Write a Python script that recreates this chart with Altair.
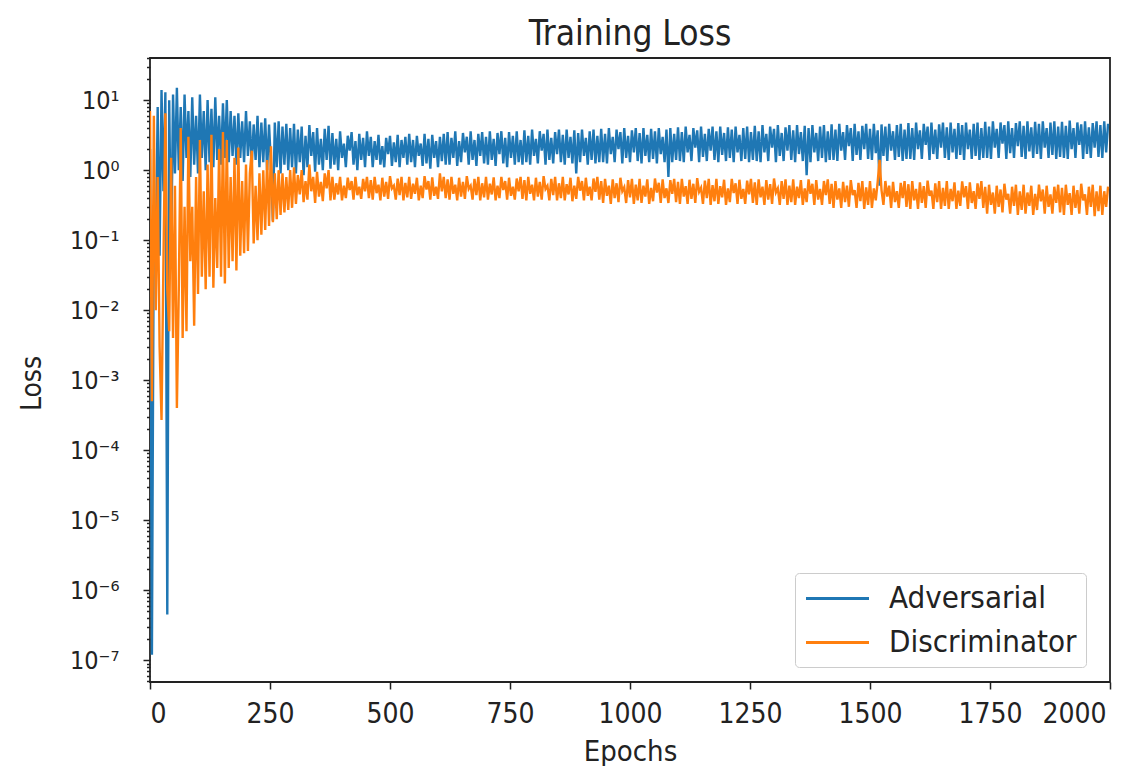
import altair as alt
import pandas as pd

# ---- data ----
epochs_early = list(range(0, 300, 4))
epochs_late = list(range(300, 2000, 4))

adv_early = [
    2.0, 1.2e-7, 0.3, 0.05, 8, 0.06, 14, 0.5, 13, 4.5e-7,
    10, 0.05, 12, 0.9, 15, 1.0, 8, 0.7, 12, 1.5,
    7, 0.8, 11, 1.2, 6, 0.9, 12, 1.5, 7, 1.0,
    10, 1.3, 7.5, 1.1, 11, 1.4, 6, 1.2, 9, 1.5,
    10, 1.3, 7, 1.6, 6, 1.2, 6.5, 1.5, 5, 1.3,
    7, 1.6, 5, 1.2, 4.5, 1.4, 6, 1.1, 4.8, 1.3,
    5.5, 1.0, 4.5, 1.2, 0.19, 4.8, 1.1, 5, 0.9, 4.2,
    1.2, 4.6, 1.0, 4.0, 1.1,
]
disc_early = [
    7, 5e-4, 6, 0.01, 0.8, 0.003, 2.7e-4, 0.05, 6.5, 0.02,
    0.005, 1.5, 0.004, 0.6, 4e-4, 0.02, 4.0, 0.004, 0.3, 0.005,
    3.0, 0.05, 0.3, 0.006, 0.8, 0.017, 2.7, 0.03, 0.5, 0.02,
    1.2, 0.03, 3.2, 0.021, 0.4, 0.04, 2.0, 0.03, 3.5, 0.024,
    2.7, 0.04, 0.8, 0.05, 1.5, 0.037, 2.1, 0.06, 0.7, 0.065,
    1.2, 0.07, 0.9, 1.9, 0.09, 0.6, 0.1, 0.9, 0.12, 1.0,
    0.14, 1.4, 0.16, 2.2, 0.18, 0.9, 0.2, 1.0, 0.23, 0.9,
    0.25, 0.8, 0.27, 1.0, 0.29,
]
adv_late = [
    4.6, 0.9, 3.8, 1.3, 4.2, 0.85, 3.1, 1.1, 4.4, 1.6, 3.5, 0.95, 4.0, 1.2, 2.8, 1.0, 3.9, 1.4, 4.3, 1.05,
    3.4, 1.2, 2.8, 1.0, 3.6, 1.5, 2.4, 1.1, 3.1, 1.9, 3.5, 1.2, 2.6, 1.0, 3.3, 1.4, 2.9, 1.1, 3.6, 1.6,
    3.0, 1.1, 2.6, 1.4, 3.2, 1.2, 2.2, 1.1, 2.9, 1.7, 3.1, 1.15, 2.5, 1.3, 3.2, 1.1, 2.7, 1.5, 3.0, 1.2,
    3.3, 1.3, 2.7, 1.1, 3.1, 1.6, 2.4, 1.15, 3.3, 1.25, 2.8, 1.05, 3.2, 1.5, 2.6, 1.1, 3.0, 1.35, 3.3, 1.2,
    3.5, 1.2, 2.9, 1.5, 3.6, 1.15, 2.6, 1.3, 3.4, 1.8, 3.0, 1.2, 3.6, 1.4, 2.7, 1.15, 3.3, 1.6, 3.5, 1.25,
    3.0, 1.2, 3.6, 1.4, 2.8, 1.15, 3.4, 1.7, 3.6, 1.25, 2.9, 1.1, 3.5, 1.5, 3.1, 1.2, 3.6, 1.3, 2.7, 1.2,
    3.7, 1.3, 3.1, 1.2, 3.8, 1.6, 2.8, 1.25, 3.6, 1.9, 3.3, 1.2, 3.8, 1.4, 2.9, 1.25, 3.5, 1.7, 3.8, 1.3,
    3.2, 1.2, 3.8, 1.5, 3.0, 1.25, 3.7, 0.9, 3.4, 1.3, 3.8, 1.6, 2.9, 1.2, 3.6, 1.4, 3.8, 1.25, 3.1, 1.3,
    3.9, 1.3, 3.3, 1.25, 4.0, 1.7, 3.0, 1.3, 3.8, 2.0, 3.5, 1.25, 4.0, 1.5, 3.1, 1.3, 3.7, 1.8, 4.0, 1.35,
    3.4, 1.25, 4.0, 1.6, 3.2, 1.3, 3.9, 1.45, 3.6, 1.25, 4.0, 1.7, 3.0, 1.3, 3.8, 0.8, 4.0, 1.3, 3.3, 1.4,
    4.1, 1.35, 3.5, 1.3, 4.2, 1.8, 3.2, 1.35, 4.0, 2.1, 3.7, 1.3, 4.2, 1.55, 3.3, 1.35, 3.9, 1.9, 4.2, 1.4,
    3.6, 1.3, 4.2, 1.65, 3.4, 1.35, 4.1, 1.5, 3.8, 1.3, 4.2, 1.8, 3.2, 1.35, 4.0, 1.45, 4.2, 1.3, 3.5, 1.4,
    4.3, 1.35, 3.6, 1.3, 4.4, 1.8, 3.3, 1.35, 4.2, 2.1, 3.9, 1.3, 4.4, 1.6, 3.4, 1.35, 4.1, 1.9, 4.4, 1.4,
    3.7, 1.3, 4.4, 1.7, 3.5, 1.35, 4.3, 0.85, 4.0, 1.3, 4.4, 1.8, 3.4, 1.35, 4.2, 1.5, 4.4, 1.3, 3.6, 1.4,
    4.5, 1.4, 3.8, 1.35, 4.6, 1.9, 3.5, 1.4, 4.4, 2.2, 4.0, 1.35, 4.6, 1.65, 3.6, 1.4, 4.3, 2.0, 4.6, 1.45,
    3.9, 1.4, 4.6, 1.75, 3.7, 0.6, 4.5, 1.6, 4.2, 1.35, 4.6, 1.9, 3.6, 1.4, 4.4, 1.55, 4.6, 1.35, 3.8, 1.45,
    4.7, 1.45, 4.0, 1.4, 4.8, 2.0, 3.7, 1.45, 4.6, 2.3, 4.2, 1.4, 4.8, 1.7, 3.8, 1.45, 4.5, 2.1, 4.8, 1.5,
    4.1, 1.4, 4.8, 1.8, 3.9, 1.45, 4.7, 1.65, 4.4, 1.4, 4.8, 2.0, 3.8, 1.45, 4.6, 1.6, 4.8, 1.4, 4.0, 1.5,
    4.9, 1.5, 4.2, 1.45, 5.0, 2.1, 3.9, 1.5, 4.8, 2.4, 4.4, 1.45, 5.0, 1.75, 4.0, 1.5, 4.7, 2.2, 5.0, 1.55,
    4.3, 1.45, 5.0, 1.85, 4.1, 1.5, 4.9, 1.7, 4.6, 1.45, 5.0, 2.1, 4.0, 1.5, 4.8, 1.65, 5.0, 1.45, 4.2, 1.55,
    4.9, 1.5, 4.3, 1.45, 5.1, 2.0, 4.0, 1.5, 4.8, 2.3, 4.5, 1.45, 5.0, 1.7, 4.1, 1.5, 4.7, 2.1, 5.0, 1.55,
    4.4, 1.5, 5.0, 1.8, 4.6,
]
disc_late = [
    1.1, 0.33, 0.85, 0.45, 1.0, 0.35, 0.7, 0.38, 1.2, 0.5, 0.8, 0.34, 0.95, 0.42, 0.68, 0.36, 0.9, 0.55, 1.0, 0.37,
    0.8, 0.38, 0.65, 0.45, 0.8, 0.37, 0.6, 0.4, 0.78, 0.52, 0.7, 0.38, 0.8, 0.44, 0.58, 0.39, 0.75, 0.5, 0.8, 0.4,
    0.72, 0.38, 0.8, 0.47, 0.62, 0.37, 0.78, 0.42, 0.68, 0.39, 0.82, 0.55, 0.6, 0.38, 0.76, 0.44, 0.8, 0.37, 0.66, 0.41,
    0.8, 0.39, 0.64, 0.46, 0.78, 0.37, 0.6, 0.4, 0.82, 0.53, 0.7, 0.38, 0.79, 0.43, 0.58, 0.39, 0.9, 0.5, 0.8, 0.4,
    0.74, 0.38, 0.8, 0.46, 0.62, 0.37, 0.78, 0.42, 0.68, 0.39, 0.82, 0.54, 0.6, 0.38, 0.75, 0.44, 0.8, 0.37, 0.65, 0.41,
    0.8, 0.38, 0.64, 0.45, 0.79, 0.37, 0.6, 0.4, 0.8, 0.52, 0.7, 0.38, 0.78, 0.43, 0.58, 0.38, 0.76, 0.5, 0.8, 0.39,
    0.72, 0.37, 0.8, 0.46, 0.62, 0.37, 0.78, 0.42, 0.68, 0.38, 0.82, 0.54, 0.6, 0.37, 0.75, 0.44, 0.8, 0.37, 0.65, 0.4,
    0.8, 0.37, 0.63, 0.45, 0.78, 0.36, 0.6, 0.39, 0.8, 0.51, 0.7, 0.37, 0.78, 0.43, 0.58, 0.37, 0.76, 0.49, 0.8, 0.38,
    0.7, 0.34, 0.75, 0.43, 0.6, 0.33, 0.74, 0.4, 0.65, 0.35, 0.78, 0.5, 0.57, 0.34, 0.72, 0.41, 0.75, 0.33, 0.62, 0.37,
    0.75, 0.34, 0.6, 0.42, 0.74, 0.33, 0.56, 0.36, 0.76, 0.48, 0.66, 0.34, 0.74, 0.4, 0.55, 0.34, 0.72, 0.46, 0.75, 0.35,
    0.68, 0.33, 0.75, 0.42, 0.59, 0.33, 0.73, 0.39, 0.64, 0.34, 0.77, 0.49, 0.56, 0.33, 0.71, 0.4, 0.75, 0.32, 0.61, 0.36,
    0.75, 0.33, 0.59, 0.41, 0.73, 0.32, 0.55, 0.35, 0.75, 0.47, 0.65, 0.33, 0.73, 0.39, 0.54, 0.33, 0.71, 0.45, 0.75, 0.34,
    0.67, 0.32, 0.74, 0.41, 0.58, 0.32, 0.72, 0.38, 0.63, 0.33, 0.76, 0.48, 0.55, 0.32, 0.7, 0.39, 0.74, 0.32, 0.6, 0.35,
    0.74, 0.32, 0.58, 0.4, 0.72, 0.32, 0.55, 0.35, 0.74, 0.46, 0.64, 0.32, 0.72, 0.38, 0.54, 0.32, 0.7, 0.44, 0.74, 0.33,
    0.64, 0.29, 0.7, 0.38, 0.55, 0.29, 0.68, 0.35, 0.6, 0.3, 0.72, 0.44, 0.52, 0.29, 0.66, 0.36, 0.7, 0.28, 0.57, 0.32,
    0.7, 0.29, 0.55, 0.37, 0.68, 1.4, 0.52, 0.32, 0.7, 0.42, 0.6, 0.29, 0.68, 0.35, 0.5, 0.29, 0.66, 0.4, 0.7, 0.3,
    0.63, 0.28, 0.7, 0.37, 0.54, 0.28, 0.67, 0.34, 0.59, 0.29, 0.71, 0.43, 0.51, 0.28, 0.65, 0.35, 0.7, 0.28, 0.56, 0.31,
    0.7, 0.28, 0.54, 0.36, 0.67, 0.28, 0.51, 0.31, 0.69, 0.41, 0.59, 0.28, 0.67, 0.34, 0.5, 0.28, 0.65, 0.39, 0.7, 0.29,
    0.58, 0.24, 0.62, 0.32, 0.48, 0.24, 0.6, 0.3, 0.53, 0.25, 0.64, 0.38, 0.46, 0.24, 0.58, 0.31, 0.62, 0.23, 0.5, 0.27,
    0.62, 0.24, 0.48, 0.31, 0.6, 0.23, 0.46, 0.27, 0.62, 0.36, 0.53, 0.24, 0.6, 0.3, 0.45, 0.24, 0.58, 0.34, 0.62, 0.25,
    0.56, 0.23, 0.62, 0.32, 0.47, 0.23, 0.6, 0.29, 0.52, 0.24, 0.64, 0.37, 0.45, 0.23, 0.58, 0.3, 0.62, 0.22, 0.5, 0.26,
    0.6, 0.23, 0.5, 0.3, 0.58,
]

series_names = ["Adversarial", "Discriminator"]
series_colors = ["#1f77b4", "#ff7f0e"]
x_ticks = [0, 250, 500, 750, 1000, 1250, 1500, 1750, 2000]
y_sup_labels = ["⁻⁷", "⁻⁶", "⁻⁵", "⁻⁴", "⁻³", "⁻²", "⁻¹", "⁰", "¹"]

# ---- table ----
epochs = epochs_early + epochs_late
rows = []
for e, v in zip(epochs, adv_early + adv_late):
    rows.append({"epoch": e, "loss": v, "series": "Adversarial"})
for e, v in zip(epochs, disc_early + disc_late):
    rows.append({"epoch": e, "loss": v, "series": "Discriminator"})
df = pd.DataFrame(rows)

# log-axis tick positions (majors labelled, minors unlabelled)
y_tick_values = []
for k in range(-8, 2):
    for m in range(1, 10):
        v = float(f"{m}e{k}")
        if 4.9e-8 <= v <= 40:
            y_tick_values.append(v)

FONT = "DejaVu Sans Condensed, DejaVu Sans"
is_major = "abs(log(datum.value)/LN10 - round(log(datum.value)/LN10)) < 0.01"
sup_array = "[" + ",".join(f"'{s}'" for s in y_sup_labels) + "]"
label_expr = f"{is_major} ? '10' + {sup_array}[round(log(datum.value)/LN10)+7] : ''"

x_enc = alt.X(
    "epoch:Q",
    scale=alt.Scale(domain=[0, 2000], nice=False, zero=False),
    axis=alt.Axis(
        title="Epochs", values=x_ticks, format="d", tickSize=7,
        labelFontSize=28, labelPadding=11,
        labelOffset={"condition": {"test": "datum.value == 2000", "value": -4}, "value": 0},
        titleY=78, titleBaseline="alphabetic", titleFontSize=29,
    ),
)
y_enc = alt.Y(
    "loss:Q",
    scale=alt.Scale(type="log", domain=[4.9e-8, 40], nice=False),
    axis=alt.Axis(
        title="Loss", values=y_tick_values, labelExpr=label_expr,
        labelOverlap=False, labelFontSize=25,
        tickSize={"condition": {"test": is_major, "value": 7}, "value": 3.5},
        labelPadding=24, titleX=-118, titleY=325, titleAlign="center",
        titleBaseline="middle", titleAngle=270, titleFontSize=28,
    ),
)
color_enc = alt.Color(
    "series:N",
    scale=alt.Scale(domain=series_names, range=series_colors),
    legend=alt.Legend(
        title=None, orient="none", legendX=645, legendY=515,
        symbolType="M-2.1,0H2.1", symbolSize=900, symbolStrokeWidth=3,
        symbolOffset=17, labelOffset=35, rowPadding=12, padding=9,
        labelFont=FONT, labelFontSize=31, labelColor="#222", labelLimit=400,
        fillColor="white", strokeColor="#cccccc", cornerRadius=4,
    ),
)

base = alt.Chart(df).mark_line(strokeWidth=2.4, clip=True).encode(
    x=x_enc, y=y_enc, color=color_enc
)
adv_layer = base.transform_filter(alt.datum.series == "Adversarial")
disc_layer = base.transform_filter(alt.datum.series == "Discriminator")

chart = (
    alt.layer(adv_layer, disc_layer)
    .properties(
        width=960, height=624,
        title=alt.TitleParams("Training Loss", font=FONT, fontSize=35,
                              fontWeight="normal", color="#222", offset=-6),
        autosize=alt.AutoSizeParams(type="none"),
        padding={"left": 142, "top": 50, "right": 29, "bottom": 84},
    )
    .configure_view(stroke="#222", strokeWidth=1.8)
    .configure_axis(
        domain=False, grid=False, labelFont=FONT,
        labelColor="#222", titleFont=FONT,
        titleFontWeight="normal", titleColor="#222",
        tickColor="#222", tickWidth=1.5,
    )
)

chart.save("out.html", embed_options={"renderer": "svg", "actions": False})
